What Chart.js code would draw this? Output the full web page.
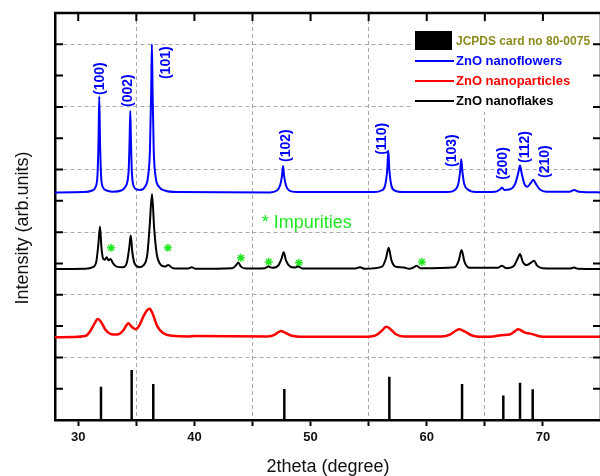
<!DOCTYPE html>
<html>
<head>
<meta charset="utf-8">
<script src="https://cdn.jsdelivr.net/npm/chart.js@4.4.0/dist/chart.umd.min.js"></script>
<style>
  html, body { margin: 0; padding: 0; background: #fff; overflow: hidden; }
  #wrap { width: 600px; height: 476px; overflow: hidden; }
</style>
</head>
<body>
<div id="wrap"><canvas id="xrd" width="601" height="476"></canvas></div>
<script>
const FONT = "'Liberation Sans', Arial, sans-serif";

// [2theta, intensity] (curves are stacked with offsets)
const nanoflowers = [
    [28.0, 7.27], [30.5, 7.28], [31.2, 7.33], [31.5, 7.45], [31.66, 7.85], [31.75, 9.0], [31.81, 10.33], [31.87, 9.0], [31.96, 7.85], [32.1, 7.45], [32.45, 7.33], [33.0, 7.29],
    [33.7, 7.33], [34.05, 7.45], [34.33, 7.9], [34.42, 8.9], [34.48, 9.87], [34.54, 8.9], [34.62, 7.9], [34.8, 7.45], [35.05, 7.36], [35.35, 7.35],
    [35.75, 7.45], [36.0, 7.75], [36.17, 8.6], [36.28, 10.5], [36.34, 12.0], [36.4, 10.5], [36.5, 8.6], [36.67, 7.75], [36.95, 7.45], [37.45, 7.33], [38.5, 7.28],
    [46.5, 7.27], [47.1, 7.33], [47.38, 7.5], [47.54, 7.8], [47.63, 8.11], [47.72, 7.8], [47.88, 7.5], [48.15, 7.33], [48.8, 7.28],
    [55.5, 7.28], [56.1, 7.33], [56.42, 7.5], [56.6, 8.0], [56.69, 8.6], [56.78, 8.0], [56.95, 7.5], [57.25, 7.33], [58.0, 7.28],
    [61.8, 7.28], [62.4, 7.34], [62.72, 7.55], [62.89, 8.0], [62.97, 8.33], [63.05, 8.0], [63.22, 7.55], [63.55, 7.36], [64.2, 7.28],
    [65.9, 7.29], [66.3, 7.36], [66.48, 7.43], [66.66, 7.35], [67.1, 7.36], [67.62, 7.55], [67.88, 7.9], [68.03, 8.13], [68.16, 7.9], [68.4, 7.55], [68.65, 7.45],
    [68.95, 7.57], [69.17, 7.67], [69.38, 7.55], [69.75, 7.36], [70.3, 7.29], [72.3, 7.29], [72.68, 7.35], [73.1, 7.29], [75.0, 7.27]
];

const nanoflakes = [
    [28.0, 4.82], [30.6, 4.83], [31.25, 4.88], [31.55, 5.05], [31.73, 5.6], [31.87, 6.18], [32.0, 5.5], [32.15, 5.15], [32.3, 5.12], [32.45, 5.2], [32.6, 5.1], [32.78, 5.14], [33.0, 5.0], [33.3, 4.9],
    [33.85, 4.88], [34.2, 5.05], [34.39, 5.5], [34.52, 5.89], [34.66, 5.35], [34.85, 5.0], [35.25, 4.88],
    [35.65, 4.95], [35.95, 5.3], [36.15, 6.2], [36.35, 7.22], [36.54, 6.1], [36.76, 5.3], [37.05, 4.98], [37.45, 4.9], [37.75, 4.95], [38.15, 4.85],
    [39.45, 4.84], [39.77, 4.88], [40.1, 4.83], [43.25, 4.85], [43.6, 4.95], [43.78, 5.03], [44.0, 4.9], [44.45, 4.84],
    [46.05, 4.85], [46.36, 4.9], [46.7, 4.86], [47.25, 4.95], [47.5, 5.15], [47.69, 5.36], [47.88, 5.1], [48.25, 4.9], [48.6, 4.87], [48.92, 4.9], [49.3, 4.84],
    [53.85, 4.84], [54.25, 4.88], [54.65, 4.83], [56.15, 4.9], [56.48, 5.15], [56.72, 5.5], [56.96, 5.1], [57.3, 4.9], [57.75, 4.88], [58.04, 4.87], [58.5, 4.83], [58.9, 4.88], [59.13, 4.93], [59.45, 4.85],
    [62.4, 4.88], [62.76, 5.1], [63.0, 5.43], [63.25, 5.05], [63.7, 4.86], [66.1, 4.86], [66.48, 4.93], [66.85, 4.85],
    [67.5, 4.92], [67.82, 5.15], [68.03, 5.3], [68.27, 5.05], [68.6, 4.95], [68.95, 5.02], [69.23, 5.09], [69.5, 4.93], [69.95, 4.85], [72.35, 4.84], [72.68, 4.87], [73.0, 4.83], [75.0, 4.82]
];

const nanoparticles = [
    [28.0, 2.64], [29.5, 2.65], [30.6, 2.68], [31.0, 2.82], [31.4, 3.08], [31.68, 3.23], [31.95, 3.14], [32.35, 2.88], [32.85, 2.74], [33.35, 2.73], [33.85, 2.85], [34.15, 3.03], [34.31, 3.09],
    [34.6, 2.98], [34.95, 2.9], [35.3, 3.05], [35.6, 3.3], [35.92, 3.5], [36.15, 3.55], [36.4, 3.4], [36.8, 3.0], [37.3, 2.78], [38.1, 2.69], [39.5, 2.67], [40.0, 2.68],
    [46.3, 2.67], [46.9, 2.72], [47.25, 2.81], [47.45, 2.84], [47.75, 2.8], [48.3, 2.7], [49.5, 2.66],
    [55.0, 2.66], [55.6, 2.7], [56.1, 2.84], [56.52, 2.98], [56.85, 2.91], [57.35, 2.74], [58.0, 2.67],
    [61.3, 2.67], [62.0, 2.73], [62.5, 2.85], [62.8, 2.9], [63.3, 2.82], [63.9, 2.7], [64.6, 2.66],
    [65.7, 2.67], [66.4, 2.71], [67.2, 2.74], [67.6, 2.84], [67.88, 2.9], [68.4, 2.8], [68.9, 2.76], [69.3, 2.72], [69.8, 2.67], [71.0, 2.66], [75.0, 2.66]
];

// JCPDS card no 80-0075 reference lines
const jcpdsTheta = [31.96, 34.6, 36.46, 47.74, 56.78, 63.04, 66.59, 68.03, 69.12];
const jcpdsHeight = [1.06, 1.6, 1.15, 0.99, 1.38, 1.15, 0.78, 1.19, 0.98];

// impurity markers on the nanoflakes pattern
const impurityTheta = [32.82, 37.72, 44.0, 46.4, 49.0, 59.58];
const impurityLevel = [5.5, 5.5, 5.18, 5.05, 5.02, 5.05];

// hkl labels, anchored at the lower end of each rotated label
const hklLabels = ["(100)", "(002)", "(101)", "(102)", "(110)", "(103)", "(200)", "(112)", "(210)"];
const hklTheta = [31.87, 34.28, 37.55, 47.88, 56.15, 62.15, 66.54, 68.46, 70.18];
const hklLevel = [10.38, 10.0, 10.89, 8.24, 8.47, 8.08, 7.67, 8.21, 7.73];

const toXY = rows => rows.map(([x, y]) => ({ x, y }));

function barSegments(thetas, heights) {
    const pts = [];
    thetas.forEach((t, i) => {
        pts.push({ x: t, y: 0 }, { x: t, y: heights[i] }, { x: t, y: null });
    });
    return pts;
}

const decor = {
    id: "decor",
    afterDraw(chart) {
        const { ctx, chartArea: a, scales: { x, y } } = chart;
        ctx.save();

        // white legend panel hides the grid behind the legend
        ctx.fillStyle = "#fff";
        ctx.fillRect(413, 22, a.right - 413, 90);

        // top / right frame
        ctx.strokeStyle = "#000";
        ctx.lineWidth = 2.5;
        ctx.beginPath();
        ctx.moveTo(a.left - 1, a.top);
        ctx.lineTo(a.right, a.top);
        ctx.lineTo(a.right, a.bottom);
        ctx.stroke();

        // inward ticks on left, right and top
        ctx.lineWidth = 2;
        ctx.beginPath();
        for (let v = 1; v < 13; v++) {
            const py = y.getPixelForValue(v);
            ctx.moveTo(a.left, py); ctx.lineTo(a.left + 8, py);
            ctx.moveTo(a.right, py); ctx.lineTo(a.right - 8, py);
        }
        for (let t = 30; t <= 70; t += 5) {
            const px = x.getPixelForValue(t);
            ctx.moveTo(px, a.top); ctx.lineTo(px, a.top + 8);
        }
        ctx.stroke();

        // y axis title
        ctx.fillStyle = "#111";
        ctx.font = "18px " + FONT;
        ctx.textAlign = "center";
        ctx.textBaseline = "middle";
        ctx.save();
        ctx.translate(23, 228);
        ctx.rotate(-Math.PI / 2);
        ctx.fillText("Intensity (arb.units)", 0, 0);
        ctx.restore();

        // hkl labels
        ctx.fillStyle = "#0000ff";
        ctx.font = "bold 14px " + FONT;
        ctx.textAlign = "left";
        hklLabels.forEach((lab, i) => {
            ctx.save();
            ctx.translate(x.getPixelForValue(hklTheta[i]), y.getPixelForValue(hklLevel[i]));
            ctx.rotate(-Math.PI / 2);
            ctx.fillText(lab, 0, 0);
            ctx.restore();
        });

        // impurities note
        ctx.fillStyle = "#22e822";
        ctx.font = "18px " + FONT;
        ctx.textBaseline = "alphabetic";
        ctx.fillText("* Impurities", x.getPixelForValue(45.8), y.getPixelForValue(6.13));

        // legend
        const lx = 415, tx = 456;
        ctx.fillStyle = "#000";
        ctx.fillRect(lx, 31, 37, 19);
        ctx.textBaseline = "middle";
        ctx.font = "bold 12px " + FONT;
        ctx.fillStyle = "#8c8c1e";
        ctx.fillText("JCPDS card no 80-0075", tx, 41.5);

        const items = [chart.data.datasets[0], chart.data.datasets[2], chart.data.datasets[1]];
        ctx.font = "bold 13px " + FONT;
        items.forEach((ds, i) => {
            const ly = 61 + i * 20;
            ctx.strokeStyle = ds.borderColor;
            ctx.lineWidth = 2;
            ctx.beginPath();
            ctx.moveTo(lx, ly); ctx.lineTo(lx + 39, ly);
            ctx.stroke();
            ctx.fillStyle = ds.borderColor;
            ctx.fillText(ds.label, tx, ly + 0.5);
        });

        ctx.restore();
    }
};

const gridDash = "#a8a8a8";

new Chart(document.getElementById("xrd"), {
    type: "line",
    data: {
        datasets: [
            {
                label: "ZnO nanoflowers",
                data: toXY(nanoflowers),
                borderColor: "#0000ff",
                borderWidth: 2,
                pointRadius: 0,
                cubicInterpolationMode: "monotone"
            },
            {
                label: "ZnO nanoflakes",
                data: toXY(nanoflakes),
                borderColor: "#000000",
                borderWidth: 2,
                pointRadius: 0,
                cubicInterpolationMode: "monotone"
            },
            {
                label: "ZnO nanoparticles",
                data: toXY(nanoparticles),
                borderColor: "#ff0000",
                borderWidth: 2.5,
                pointRadius: 0,
                cubicInterpolationMode: "monotone"
            },
            {
                label: "JCPDS card no 80-0075",
                data: barSegments(jcpdsTheta, jcpdsHeight),
                borderColor: "#000000",
                borderWidth: 2.5,
                borderCapStyle: "butt",
                pointRadius: 0,
                spanGaps: false
            },
            {
                label: "Impurities",
                data: impurityTheta.map((t, i) => ({ x: t, y: impurityLevel[i] })),
                showLine: false,
                pointStyle: "star",
                pointRadius: 4,
                borderColor: "#22e822",
                borderWidth: 1.5
            }
        ]
    },
    options: {
        responsive: false,
        animation: false,
        devicePixelRatio: 1,
        layout: { autoPadding: false, padding: { left: 8, top: 13, right: 0, bottom: 0 } },
        plugins: { legend: { display: false }, tooltip: { enabled: false } },
        scales: {
            x: {
                type: "linear",
                min: 28,
                max: 75,
                afterFit: s => { s.height = 56; s.paddingRight = 0; s.paddingLeft = 0; },
                ticks: {
                    stepSize: 5,
                    includeBounds: false,
                    autoSkip: false,
                    maxRotation: 0,
                    padding: 4,
                    color: "#111",
                    font: { family: FONT, size: 13, weight: "bold" },
                    callback: v => (v % 10 === 0 ? v : "")
                },
                grid: {
                    color: c => (c.tick && c.tick.value % 10 === 5 ? gridDash : "rgba(0,0,0,0)"),
                    lineWidth: 1,
                    tickColor: "#000",
                    tickLength: 6,
                    tickWidth: 2
                },
                border: { color: "#000", width: 2.5, dash: [4, 3] },
                title: {
                    display: true,
                    text: "2theta (degree)",
                    color: "#111",
                    font: { family: FONT, size: 18 },
                    padding: { top: 9, bottom: -2 }
                }
            },
            y: {
                min: 0,
                max: 13,
                afterFit: s => { s.width = 47; },
                ticks: { display: false, stepSize: 1 },
                grid: {
                    drawTicks: false,
                    color: c => {
                        const v = c.tick ? c.tick.value : -1;
                        return v > 0 && v < 13 && v % 2 === 0 ? gridDash : "rgba(0,0,0,0)";
                    },
                    lineWidth: 1
                },
                border: { color: "#000", width: 2.5, dash: [4, 3] },
                title: { display: false }
            }
        }
    },
    plugins: [decor]
});
</script>
</body>
</html>
